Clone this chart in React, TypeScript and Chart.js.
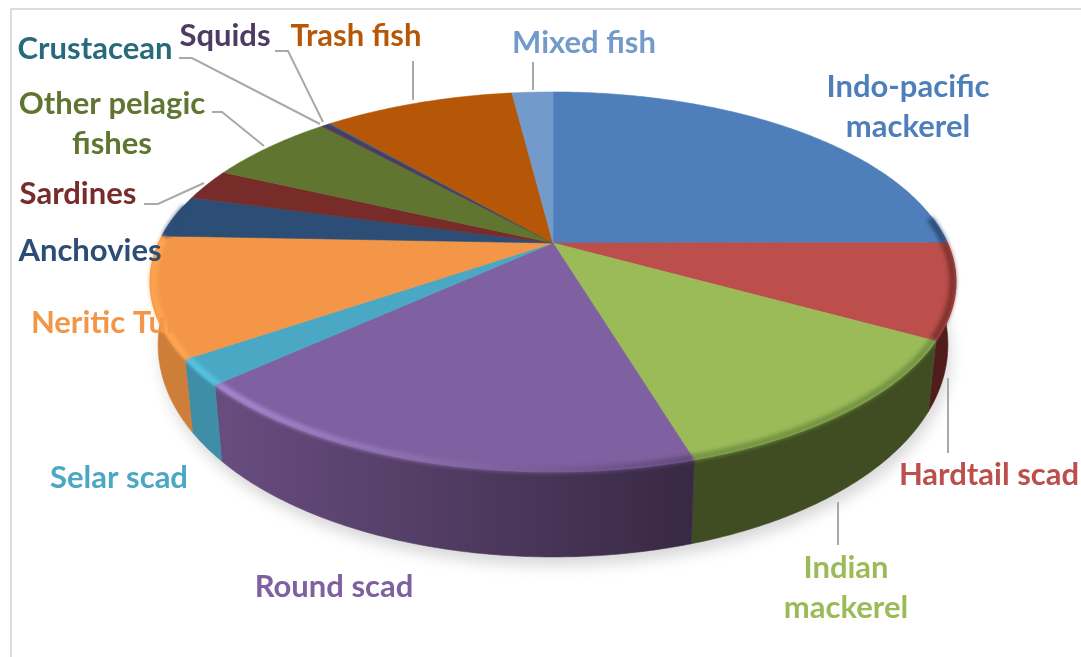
import React, { useEffect, useRef } from "react";
import { Chart, registerables } from "chart.js";

Chart.register(...registerables);

const categories = ["Indo-pacific mackerel", "Hardtail scad", "Indian mackerel", "Round scad", "Selar scad", "Neritic Tuna", "Anchovies", "Sardines", "Other pelagic fishes", "Squids", "Crustacean", "Trash fish", "Mixed fish"];
const shares = [25, 8.1, 12.3, 17.9, 2.2, 10.2, 3.6, 2.7, 6.3, 0.4, 0.1, 9.3, 2.0];
const faceColors = ["#4e7fba", "#bc4e4b", "#9bbb59", "#7f60a0", "#4aa8c4", "#f49647", "#2c4d75", "#772c2a", "#5f7530", "#4d3b62", "#276a7c", "#b65708", "#729aca"];
const wallStart = ["#1e3350", "#4f1d1c", "#404d22", "#674c7e", "#3d8ea6", "#cd7e38", "#1c324c", "#4a1b1a", "#3c4a1e", "#332740", "#1a4652", "#703505", "#4a6482"];
const wallEnd = ["#1e3350", "#4f1d1c", "#404d22", "#382944", "#3d8ea6", "#cd7e38", "#1c324c", "#4a1b1a", "#3c4a1e", "#332740", "#1a4652", "#703505", "#4a6482"];
const rimStart = ["#2a4770", "#7a2f2d", "#6f9040", "#ab8bd4", "#56c6e4", "#ffa650", "#2c4d75", "#772c2a", "#5f7530", "#4d3b62", "#276a7c", "#b65708", "#729aca"];
const rimEnd = ["#2a4770", "#7a2f2d", "#6f9040", "#5f4878", "#56c6e4", "#ffa650", "#2c4d75", "#772c2a", "#5f7530", "#4d3b62", "#276a7c", "#b65708", "#729aca"];

const labelLines = [["Indo-pacific", "mackerel"], ["Hardtail scad"], ["Indian", "mackerel"], ["Round scad"], ["Selar scad"], ["Neritic Tuna"], ["Anchovies"], ["Sardines"], ["Other pelagic", "fishes"], ["Squids"], ["Crustacean"], ["Trash fish"], ["Mixed fish"]];
const labelAnchors = [[908, 87], [989, 475], [846, 568], [334, 587], [119, 478], [115, 323], [90, 251], [78, 194], [112, 104], [225, 36], [95, 49], [356, 36], [584, 43]];
const leaderLines = [
  [[948, 378], [948, 453]],
  [[838, 502], [838, 545]],
  [[144, 204], [158, 204], [204, 183]],
  [[212, 112], [222, 112], [264, 146]],
  [[179, 58], [192, 58], [320, 124]],
  [[275, 51], [288, 51], [323, 122]],
  [[413, 61], [413, 100]],
  [[533, 62], [533, 90]],
];

const RX = 1.623, RY = 0.749, PERSP = 0.205, BOTTOM_SCALE = 0.98;
const DEPTH_BACK = 57, DEPTH_FRONT = 28;
const FRONT_FROM = (-8 * Math.PI) / 180, FRONT_TO = (192 * Math.PI) / 180;

const pie3d = {
  id: "pie3d",
  beforeDatasetDraw(chart: any) {
    const ctx: CanvasRenderingContext2D = chart.ctx;
    const arcs: any[] = chart.getDatasetMeta(0).data;
    const first = arcs[0];
    const cx = first.x, cy = first.y, r = first.outerRadius;
    const top = (a: number, k = 1) => {
      const u = Math.cos(a) * k, v = Math.sin(a) * k;
      const s = 1 / (1 - PERSP * v);
      return [cx + r * RX * u * s, cy + r * RY * v * s];
    };
    const low = (a: number) => {
      const p = top(a);
      return [cx + (p[0] - cx) * BOTTOM_SCALE, p[1] + DEPTH_BACK + DEPTH_FRONT * Math.sin(a)];
    };
    const angles = (a0: number, a1: number) => {
      const n = Math.max(2, Math.ceil((a1 - a0) / 0.01));
      const out: number[] = [];
      for (let i = 0; i <= n; i++) out.push(a0 + ((a1 - a0) * i) / n);
      return out;
    };
    const spans = (el: any) => {
      const a0 = el.startAngle, a1 = el.endAngle;
      const res: number[][] = [];
      for (const shift of [0, 2 * Math.PI, -2 * Math.PI]) {
        const s = Math.max(a0 + shift, FRONT_FROM), e = Math.min(a1 + shift, FRONT_TO);
        if (e > s) res.push([s, e]);
      }
      return res;
    };

    // soft ground shadow
    ctx.save();
    ctx.filter = "blur(7px)";
    ctx.fillStyle = "rgba(150,150,150,0.36)";
    ctx.beginPath();
    angles(0, 2 * Math.PI).forEach((a, i) => {
      const p = low(a);
      const x = p[0] + 3, y = p[1] + 9;
      if (i) ctx.lineTo(x, y); else ctx.moveTo(x, y);
    });
    ctx.closePath();
    ctx.fill();
    ctx.restore();

    // side walls
    arcs.forEach((el, i) => {
      spans(el).forEach(([s, e]) => {
        const pts = angles(s, e);
        const grad = ctx.createLinearGradient(230, 0, 690, 0);
        grad.addColorStop(0, wallStart[i]);
        grad.addColorStop(1, wallEnd[i]);
        ctx.fillStyle = grad;
        ctx.strokeStyle = grad;
        ctx.lineWidth = 0.6;
        ctx.beginPath();
        pts.forEach((a, k) => {
          const p = top(a);
          if (k) ctx.lineTo(p[0], p[1]); else ctx.moveTo(p[0], p[1]);
        });
        pts.slice().reverse().forEach((a) => {
          const p = low(a);
          ctx.lineTo(p[0], p[1]);
        });
        ctx.closePath();
        ctx.fill();
        ctx.stroke();
      });
    });

    // top face
    arcs.forEach((el, i) => {
      ctx.fillStyle = faceColors[i];
      ctx.strokeStyle = faceColors[i];
      ctx.lineWidth = 0.6;
      ctx.beginPath();
      ctx.moveTo(cx, cy);
      angles(el.startAngle, el.endAngle).forEach((a) => {
        const p = top(a);
        ctx.lineTo(p[0], p[1]);
      });
      ctx.closePath();
      ctx.fill();
      ctx.stroke();
    });

    // bevel along the front rim
    arcs.forEach((el, i) => {
      spans(el).forEach(([s, e]) => {
        const grad = ctx.createLinearGradient(230, 0, 690, 0);
        grad.addColorStop(0, rimStart[i]);
        grad.addColorStop(1, rimEnd[i]);
        ctx.save();
        ctx.filter = "blur(2.2px)";
        ctx.strokeStyle = grad;
        ctx.lineWidth = 6;
        ctx.lineCap = "butt";
        ctx.beginPath();
        angles(s, e).forEach((a, k) => {
          const p = top(a, 0.992);
          if (k) ctx.lineTo(p[0], p[1]); else ctx.moveTo(p[0], p[1]);
        });
        ctx.stroke();
        ctx.restore();
      });
    });
    return false;
  },
  afterDraw(chart: any) {
    const ctx: CanvasRenderingContext2D = chart.ctx;
    ctx.save();
    // frame of the picture
    ctx.fillStyle = "#dcdcdc";
    ctx.fillRect(10, 8, 1071, 2);
    ctx.fillRect(10, 8, 2, 649);

    ctx.strokeStyle = "#a9a9a9";
    ctx.lineWidth = 2;
    leaderLines.forEach((line) => {
      ctx.beginPath();
      line.forEach((p, i) => (i ? ctx.lineTo(p[0], p[1]) : ctx.moveTo(p[0], p[1])));
      ctx.stroke();
    });

    ctx.font = "bold 31px Lato";
    ctx.textAlign = "center";
    ctx.textBaseline = "middle";
    labelLines.forEach((lines, i) => {
      ctx.fillStyle = faceColors[i];
      lines.forEach((t, k) => ctx.fillText(t, labelAnchors[i][0], labelAnchors[i][1] + k * 40));
    });
    ctx.restore();
  },
};

export default function App() {
  const ref = useRef<HTMLCanvasElement | null>(null);
  useEffect(() => {
    document.body.style.margin = "0";
    document.body.style.background = "#ffffff";
    const chart = new Chart(ref.current as HTMLCanvasElement, {
      type: "pie",
      data: {
        labels: categories,
        datasets: [{ data: shares, backgroundColor: faceColors, borderWidth: 0 }],
      },
      options: {
        animation: false,
        responsive: false,
        layout: { padding: { left: 25, right: 0, top: 0, bottom: 171 } },
        plugins: { legend: { display: false }, tooltip: { enabled: false } },
      },
      plugins: [pie3d],
    } as any);
    return () => chart.destroy();
  }, []);
  return <canvas ref={ref} width={1081} height={657} style={{ display: "block", position: "fixed", left: 0, top: 0 }} />;
}
